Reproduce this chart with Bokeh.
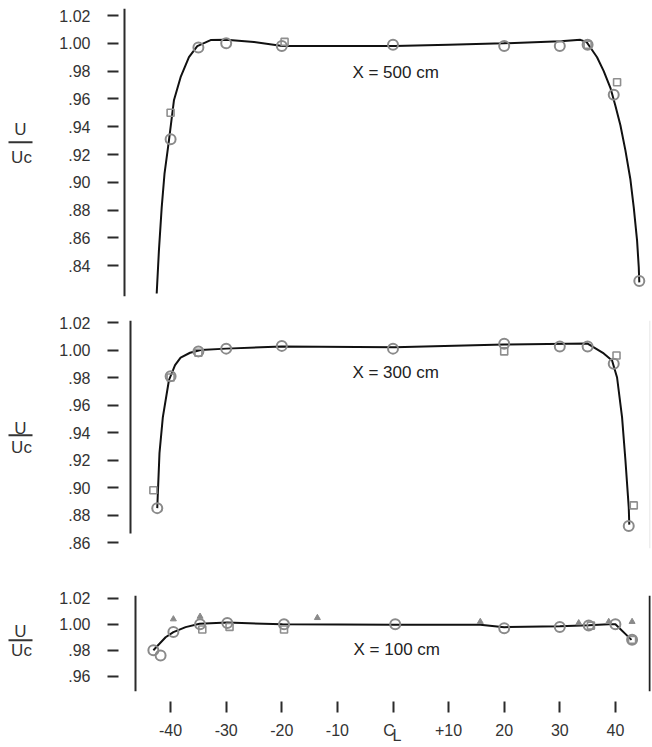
from bokeh.plotting import figure
from bokeh.layouts import column, row
from bokeh.models import Range1d, FixedTicker, Span
from bokeh.core.properties import value
from bokeh.embed import file_html
from bokeh.resources import INLINE

FONT = "Liberation Sans"

# ---------------- data ----------------
x_ticks = [-40, -30, -20, -10, 0, 10, 20, 30, 40]
x_tick_labels = ["-40", "-30", "-20", "-10", "C\u2002\n\u2002L", "+10", "20", "30", "40"]

# X = 500 cm
y_ticks_500 = [0.84, 0.86, 0.88, 0.90, 0.92, 0.94, 0.96, 0.98, 1.0, 1.02]
y_labels_500 = [".84", ".86", ".88", ".90", ".92", ".94", ".96", ".98", "1.00", "1.02"]
curve500_x = [-42.5, -42.1, -41.6, -41.1, -40.3, -39.4, -38.2, -36.7, -35.2, -32.8, -30.0,
              -25.0, -19.9, -11.2, 0.3, 10.0, 19.9, 30.1, 33.7, 34.8, 35.5, 36.7, 37.9, 39.1,
              40.0, 40.9, 41.8, 42.7, 43.3, 43.9, 44.2, 44.3]
curve500_y = [0.820, 0.851, 0.882, 0.906, 0.930, 0.959, 0.9756, 0.990, 0.998, 1.0023, 1.0025,
              1.001, 0.998, 0.998, 0.998, 0.999, 1.000, 1.0015, 1.0025, 1.001, 0.997, 0.990,
              0.980, 0.968, 0.955, 0.941, 0.923, 0.902, 0.882, 0.858, 0.839, 0.828]
circ500_x = [-40, -35, -30, -20, 0, 20, 30, 35, 39.7, 44.3]
circ500_y = [0.931, 0.997, 1.000, 0.998, 0.999, 0.998, 0.998, 0.999, 0.963, 0.829]
sq500_x = [-40, -19.5, 35, 40.3]
sq500_y = [0.950, 1.001, 0.999, 0.972]

# X = 300 cm
y_ticks_300 = [0.86, 0.88, 0.90, 0.92, 0.94, 0.96, 0.98, 1.0, 1.02]
y_labels_300 = [".86", ".88", ".90", ".92", ".94", ".96", ".98", "1.00", "1.02"]
curve300_x = [-42.4, -42.0, -41.4, -40.3, -39.2, -38.2, -36.5, -34.6, -30.0, -20.0, 0.3, 20.0,
              35.0, 37.9, 39.4, 40.3, 41.2, 41.8, 42.4, 42.5]
curve300_y = [0.885, 0.925, 0.951, 0.978, 0.989, 0.9945, 0.998, 1.000, 1.001, 1.0025, 1.002, 1.004,
              1.0047, 0.9975, 0.9924, 0.980, 0.951, 0.920, 0.8855, 0.873]
circ300_x = [-42.4, -40, -35, -30, -20, 0, 20, 30, 35, 39.7, 42.4]
circ300_y = [0.885, 0.981, 0.999, 1.001, 1.003, 1.001, 1.0045, 1.0025, 1.0025, 0.990, 0.872]
sq300_x = [-43.1, -40, -35, 20, 40.2, 43.3]
sq300_y = [0.898, 0.980, 0.998, 0.999, 0.996, 0.887]

# X = 100 cm
y_ticks_100 = [0.96, 0.98, 1.0, 1.02]
y_labels_100 = [".96", ".98", "1.00", "1.02"]
curve100_x = [-43.1, -40.9, -39.5, -37.3, -34.8, -29.8, -19.9, 0.3, 15.7, 20.0, 30.0, 35.2, 38.8, 40.0, 42.9]
curve100_y = [0.980, 0.990, 0.994, 0.9978, 1.0004, 1.0013, 1.000, 0.9996, 0.9996, 0.9978, 0.9985,
              0.9993, 1.000, 1.000, 0.988]
circ100_x = [-43.1, -41.8, -39.5, -34.7, -29.8, -19.6, 0.4, 20, 30, 35.2, 40, 43]
circ100_y = [0.980, 0.976, 0.994, 1.000, 1.001, 1.000, 1.000, 0.997, 0.998, 0.999, 1.000, 0.988]
sq100_x = [-34.3, -29.4, -19.6, 35.6, 43]
sq100_y = [0.996, 0.998, 0.996, 0.999, 0.988]
tri100_x = [-39.5, -34.7, -13.6, 15.7, 33.4, 38.8, 43]
tri100_y = [1.004, 1.006, 1.005, 1.002, 1.001, 1.002, 1.002]

panel_titles = ["X = 500 cm", "X = 300 cm", "X = 100 cm"]

# ---------------- layout helpers ----------------
W = 652
STRIP = 45          # width of the U/Uc label strip
PX0 = 392.5         # pixel of centre line
PXU = 5.56          # pixels per cm
FRAME_L = 118
RIGHT = 650
X0 = (FRAME_L - PX0) / PXU
X1 = (RIGHT - PX0) / PXU
INK = "#2b2b2b"


def make_panel(height, b_top, b_bottom, yr, yt, yl, has_x):
    p = figure(width=W - STRIP, height=height, output_backend="svg", toolbar_location=None,
               x_range=Range1d(X0, X1), y_range=yr,
               x_axis_location="below" if has_x else None)
    p.min_border = 0
    p.min_border_left = FRAME_L - STRIP
    p.min_border_right = W - RIGHT
    p.min_border_top = b_top
    p.min_border_bottom = b_bottom
    p.outline_line_color = None
    p.grid.visible = False

    ax = p.yaxis[0]
    ax.ticker = FixedTicker(ticks=yt)
    ax.major_label_overrides = dict(zip(yt, yl))
    ax.axis_line_color = None
    ax.major_tick_line_color = INK
    ax.major_tick_line_width = 2
    ax.major_tick_out = 11
    ax.major_tick_in = 0
    ax.minor_tick_line_color = None
    ax.major_label_standoff = 17
    ax.major_label_text_font = FONT
    ax.major_label_text_font_size = "16px"
    ax.major_label_text_color = "#333333"

    if has_x:
        xa = p.xaxis[0]
        xa.ticker = FixedTicker(ticks=x_ticks)
        xa.major_label_overrides = dict(zip(x_ticks, x_tick_labels))
        xa.axis_line_color = None
        xa.major_tick_line_color = INK
        xa.major_tick_line_width = 2
        xa.major_tick_in = -10
        xa.major_tick_out = 21
        xa.minor_tick_line_color = None
        xa.major_label_standoff = 9
        xa.major_label_text_font = FONT
        xa.major_label_text_font_size = "16px"
        xa.major_label_text_color = "#333333"
        xa.major_label_text_line_height = 0.35
    return p


def make_strip(height, b_top, b_bottom, yr, yu, yline, yuc):
    s = figure(width=STRIP, height=height, output_backend="svg", toolbar_location=None,
               x_range=Range1d(0, STRIP), y_range=yr,
               x_axis_location=None, y_axis_location=None)
    s.min_border = 0
    s.min_border_top = b_top
    s.min_border_bottom = b_bottom
    s.outline_line_color = None
    s.grid.visible = False
    s.text(x=[20, 21], y=[yu, yuc], text=["U", "Uc"], text_font=value(FONT),
           text_font_size="17px", text_align="center", text_baseline="middle",
           text_color="#333333")
    s.segment(x0=[8], y0=[yline], x1=[32], y1=[yline], line_color="#333333", line_width=2)
    return s


def axis_line(p, px, y_lo, y_hi):
    xd = (px - PX0) / PXU
    p.segment(x0=[xd], y0=[y_lo], x1=[xd], y1=[y_hi], line_color=INK, line_width=2)


def add_series(p, cx, cy, ox, oy, sx, sy, tx=None, ty=None):
    p.line(cx, cy, line_color="#111111", line_width=2)
    if tx is not None:
        p.scatter(tx, ty, marker="triangle", size=6, fill_color="#8a8a8a",
                  line_color="#8a8a8a")
    p.scatter(sx, sy, marker="square", size=7, fill_color=None,
              line_color="#8f8f8f", line_width=1.6)
    p.scatter(ox, oy, marker="circle", size=10, fill_color=None,
              line_color="#8a8a8a", line_width=2)


def add_title(p, xx, yy, txt):
    p.text(x=[xx], y=[yy], text=[txt], text_font=value(FONT), text_font_size="17px",
           text_align="left", text_baseline="middle", text_color="#222222")


# ---- top: X = 500 cm (frame y 8..296, 1.00 at 42.8, 1390 px/unit)
yr1 = Range1d(1 - (296 - 42.8) / 1390, 1 - (8 - 42.8) / 1390)
p1 = make_panel(300, 8, 4, yr1, y_ticks_500, y_labels_500, False)
axis_line(p1, 124, yr1.start, yr1.end)
add_series(p1, curve500_x, curve500_y, circ500_x, circ500_y, sq500_x, sq500_y)
add_title(p1, -7.3, 0.979, panel_titles[0])
s1 = make_strip(300, 8, 4, yr1, 0.938, 0.9288, 0.918)

# ---- middle: X = 300 cm (frame y 320..548, 1.00 at 349.5, 1375 px/unit)
yr2 = Range1d(1 - (548 - 349.5) / 1375, 1 - (320 - 349.5) / 1375)
p2 = make_panel(260, 20, 12, yr2, y_ticks_300, y_labels_300, False)
axis_line(p2, 130, 1 - (533 - 349.5) / 1375, yr2.end)
add_series(p2, curve300_x, curve300_y, circ300_x, circ300_y, sq300_x, sq300_y)
add_title(p2, -7.3, 0.9836, panel_titles[1])
p2.add_layout(Span(location=(649.5 - PX0) / PXU, dimension="height",
                   line_color="#dddddd", line_width=1))
s2 = make_strip(260, 20, 12, yr2, 0.943, 0.938, 0.929)

# ---- bottom: X = 100 cm (frame y 595..695, 1.00 at 625, 1350 px/unit)
yr3 = Range1d(1 - (695 - 625) / 1350, 1 - (595 - 625) / 1350)
p3 = make_panel(187, 35, 52, yr3, y_ticks_100, y_labels_100, True)
axis_line(p3, 135, yr3.start, yr3.end)
add_series(p3, curve100_x, curve100_y, circ100_x, circ100_y, sq100_x, sq100_y,
           tri100_x, tri100_y)
add_title(p3, -7.1, 0.9807, panel_titles[2])
p3.add_layout(Span(location=(649.5 - PX0) / PXU, dimension="height",
                   line_color="#222222", line_width=2.5))
s3 = make_strip(187, 35, 52, yr3, 0.9948, 0.9876, 0.9796)

layout = column(row(s1, p1, spacing=0), row(s2, p2, spacing=0), row(s3, p3, spacing=0),
                spacing=0)
open("out.html", "w").write(file_html(layout, INLINE))
